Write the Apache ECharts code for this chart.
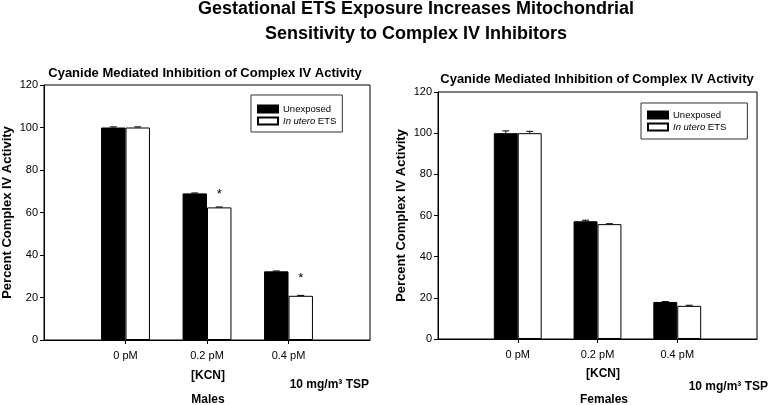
<!DOCTYPE html>
<html>
<head>
<meta charset="utf-8">
<script src="https://cdn.jsdelivr.net/npm/echarts@6/dist/echarts.min.js"></script>
<style>html,body{margin:0;padding:0;background:#fff}#c{width:769px;height:405px}</style>
</head>
<body>
<div id="c"></div>
<script>
// ---- data ----
const categories = ['0 pM', '0.2 pM', '0.4 pM'];
const seriesNames = ['Unexposed', 'In utero ETS'];
const malesUnexposed = [100, 69.0, 32.3];
const malesETS = [100, 62.4, 20.8];
const malesUnexposedErr = [0.3, 0.2, 0.2];
const malesETSErr = [0.3, 0.2, 0.2];
const malesSignificant = [false, true, true];
const femalesUnexposed = [100, 57.2, 18.0];
const femalesETS = [100, 55.8, 16.1];
const femalesUnexposedErr = [1.1, 0.5, 0.2];
const femalesETSErr = [0.9, 0.2, 0.3];
const yTicks = [0, 20, 40, 60, 80, 100, 120];

// ---- build ----
const axisCats = [''].concat(categories, ['']);
const pad = arr => ['-'].concat(arr, ['-']);
const FONT = 'Arial, "Liberation Sans", sans-serif';

function errData(vals, errs) {
  return vals.map((v, i) => [i + 1, v, errs[i]]);
}
function errRender(sign) {
  return function (params, api) {
    const x = api.value(0), v = api.value(1), e = api.value(2);
    const band = api.size([1, 0])[0];
    const p0 = api.coord([x, v]);
    const p1 = api.coord([x, v + e]);
    const cx = p0[0] + sign * band * 0.15;
    return {
      type: 'group',
      children: [
        {type: 'line', shape: {x1: cx, y1: p0[1], x2: cx, y2: p1[1]}, style: {stroke: '#000', lineWidth: 1}},
        {type: 'line', shape: {x1: cx - 3.5, y1: p1[1], x2: cx + 3.5, y2: p1[1]}, style: {stroke: '#000', lineWidth: 1}}
      ]
    };
  };
}
function etsData(vals, sig, dists) {
  const d = vals.map((v, i) => sig && sig[i]
    ? {value: v, label: {show: true, formatter: '*', position: 'top', distance: dists[i], fontSize: 13, color: '#000', fontFamily: FONT}}
    : v);
  return pad(d);
}

const gridL = {left: 42, top: 85, right: 399, bottom: 65};
const gridR = {left: 438, top: 92, right: 12, bottom: 66};

function xAx(gi) {
  return {
    type: 'category', gridIndex: gi, data: axisCats, boundaryGap: false,
    axisLine: {show: true, lineStyle: {color: '#000', width: 1}},
    axisTick: {show: true, length: 4, interval: (i) => i > 0 && i < axisCats.length - 1, lineStyle: {color: '#000'}},
    axisLabel: {interval: 0, margin: 10, color: '#000', fontSize: 11, fontFamily: FONT},
    splitLine: {show: false}
  };
}
function yAx(gi) {
  return {
    type: 'value', gridIndex: gi, min: yTicks[0], max: yTicks[yTicks.length - 1], interval: 20,
    name: 'Percent Complex IV Activity', nameLocation: 'middle', nameGap: 30,
    nameTextStyle: {fontWeight: 'bold', fontSize: 13, color: '#000', fontFamily: FONT},
    axisLine: {show: true, lineStyle: {color: '#000', width: 1}},
    axisTick: {show: true, length: 4, lineStyle: {color: '#000'}},
    axisLabel: {margin: 6, color: '#000', fontSize: 11, fontFamily: FONT},
    splitLine: {show: false}
  };
}
const barBlack = {color: '#000', borderColor: '#000', borderWidth: 1};
const barWhite = {color: '#fff', borderColor: '#000', borderWidth: 1};

function legend(left, top, padding) {
  return {
    left: left, top: top, orient: 'vertical', data: seriesNames, selectedMode: false,
    itemWidth: 20, itemHeight: 7, itemGap: 2, padding: padding,
    borderColor: '#333', borderWidth: 1, icon: 'rect',
    formatter: n => n === 'In utero ETS' ? '{i|In utero} ETS' : n,
    textStyle: {fontSize: 9.5, color: '#000', fontFamily: FONT,
      rich: {i: {fontStyle: 'italic', fontSize: 9.5, color: '#000', fontFamily: FONT}}}
  };
}

const titleFont = {fontWeight: 'bold', fontSize: 12, color: '#000', fontFamily: FONT, lineHeight: 13};
const subFont = {fontWeight: 'bold', fontSize: 13, color: '#000', fontFamily: FONT, lineHeight: 14};
const option = {
  animation: false,
  backgroundColor: '#fff',
  title: [
    {text: 'Gestational ETS Exposure Increases Mitochondrial\nSensitivity to Complex IV Inhibitors', left: 416, top: -4, padding: 0, textAlign: 'center',
      textStyle: {fontWeight: 'bold', fontSize: 18, color: '#000', fontFamily: FONT, lineHeight: 25.5}},
    {text: 'Cyanide Mediated Inhibition of Complex IV Activity', left: 205, top: 66, padding: 0, textAlign: 'center', textStyle: subFont},
    {text: 'Cyanide Mediated Inhibition of Complex IV Activity', left: 597, top: 72, padding: 0, textAlign: 'center', textStyle: subFont},
    {text: '[KCN]', left: 208, top: 369, padding: 0, textAlign: 'center', textStyle: titleFont},
    {text: '[KCN]', left: 603, top: 367, padding: 0, textAlign: 'center', textStyle: titleFont},
    {text: 'Males', left: 208, top: 393, padding: 0, textAlign: 'center', textStyle: titleFont},
    {text: 'Females', left: 604, top: 393, padding: 0, textAlign: 'center', textStyle: titleFont},
    {text: '10 mg/m³ TSP', left: 369, top: 378, padding: 0, textAlign: 'right', textStyle: titleFont},
    {text: '10 mg/m³ TSP', left: 768, top: 380, padding: 0, textAlign: 'right', textStyle: titleFont}
  ],
  legend: [legend(251, 95, [9, 6, 6, 6]), legend(641, 103, [7, 21, 7, 6])],
  grid: [
    Object.assign({show: true, borderColor: '#000', borderWidth: 1, backgroundColor: 'transparent'}, gridL),
    Object.assign({show: true, borderColor: '#000', borderWidth: 1, backgroundColor: 'transparent'}, gridR)
  ],
  xAxis: [xAx(0), xAx(1)],
  yAxis: [yAx(0), yAx(1)],
  series: [
    {name: 'Unexposed', type: 'bar', xAxisIndex: 0, yAxisIndex: 0, data: pad(malesUnexposed), barWidth: '30%', barGap: '0%', itemStyle: barBlack},
    {name: 'In utero ETS', type: 'bar', xAxisIndex: 0, yAxisIndex: 0, data: etsData(malesETS, malesSignificant, [0, 6, 11]), barWidth: '30%', barGap: '0%', itemStyle: barWhite},
    {name: 'Unexposed', type: 'bar', xAxisIndex: 1, yAxisIndex: 1, data: pad(femalesUnexposed), barWidth: '30%', barGap: '0%', itemStyle: barBlack},
    {name: 'In utero ETS', type: 'bar', xAxisIndex: 1, yAxisIndex: 1, data: pad(femalesETS), barWidth: '30%', barGap: '0%', itemStyle: barWhite},
    {type: 'custom', xAxisIndex: 0, yAxisIndex: 0, data: errData(malesUnexposed, malesUnexposedErr), renderItem: errRender(-1), z: 5},
    {type: 'custom', xAxisIndex: 0, yAxisIndex: 0, data: errData(malesETS, malesETSErr), renderItem: errRender(1), z: 5},
    {type: 'custom', xAxisIndex: 1, yAxisIndex: 1, data: errData(femalesUnexposed, femalesUnexposedErr), renderItem: errRender(-1), z: 5},
    {type: 'custom', xAxisIndex: 1, yAxisIndex: 1, data: errData(femalesETS, femalesETSErr), renderItem: errRender(1), z: 5}
  ]
};
const chart = echarts.init(document.getElementById('c'), null, {renderer: 'canvas'});
chart.setOption(option);
</script>
</body>
</html>
